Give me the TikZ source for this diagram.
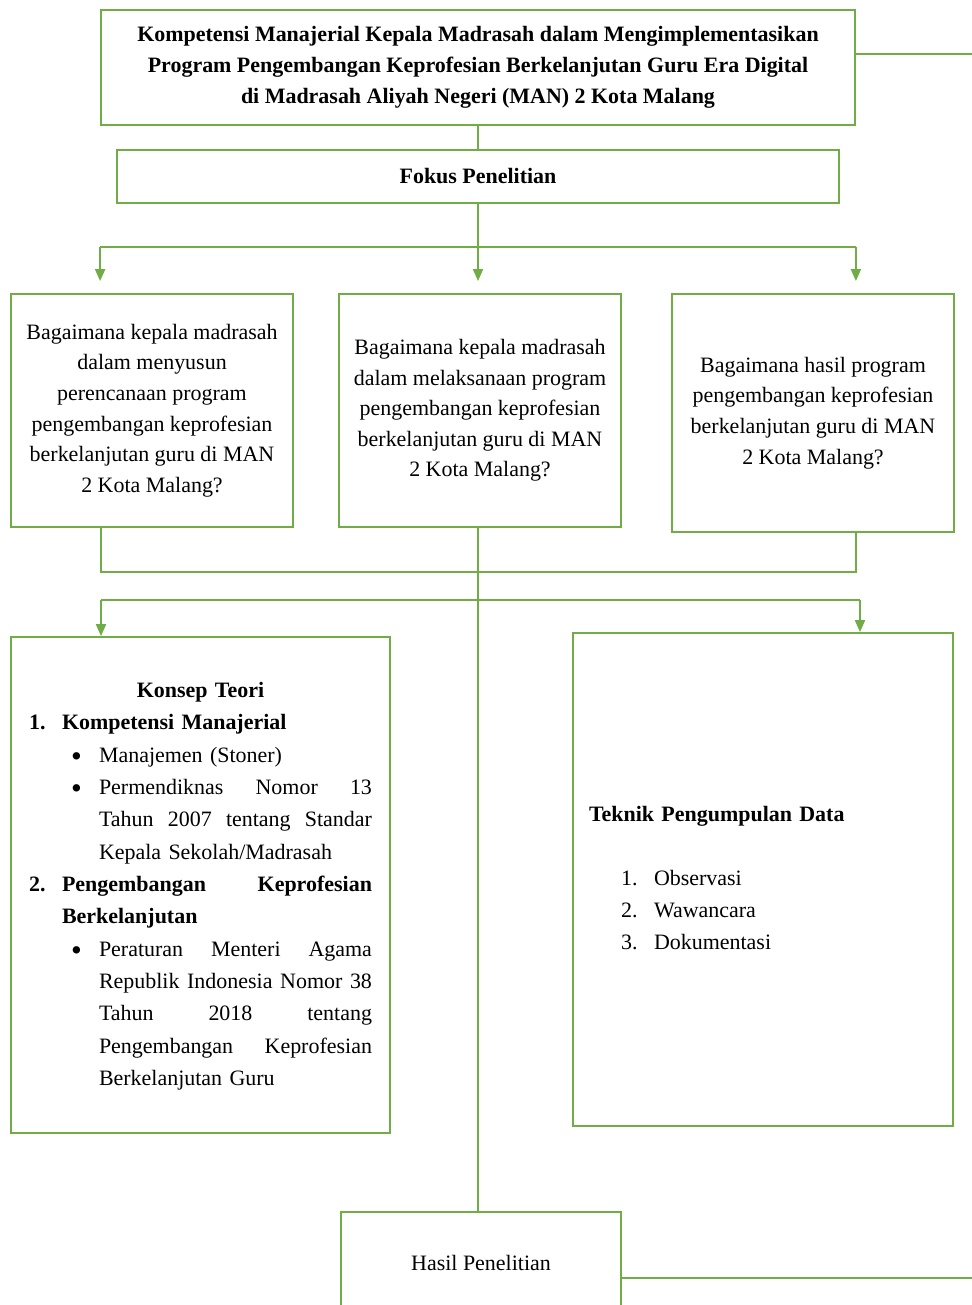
\documentclass[tikz,border=0pt]{standalone}
\usepackage{fontspec}
\setmainfont{Liberation Serif}
\usetikzlibrary{arrows.meta,calc}
\definecolor{framegreen}{HTML}{70AD47}
\tikzset{
  box/.style={draw=framegreen, line width=1.1pt, rectangle, inner sep=0pt, align=center, font=\fontsize{12.5pt}{17.4pt}\selectfont},
  link/.style={draw=framegreen, line width=1.1pt},
  arr/.style={link, -{Triangle[width=0.2cm,length=0.24cm]}},
}
\newcommand{\itemdot}{\hspace*{0.18cm}\raisebox{-0.18em}{\scalebox{1.4}{\textbullet}}}
\begin{document}
\begin{tikzpicture}[x=0.02cm,y=-0.02cm]
\useasboundingbox (0,0) rectangle (972,1305);
\coordinate (split1) at (478,247);
\coordinate (join) at (478,572);
\coordinate (kLeft) at (101,600);
\coordinate (kRight) at (860,600);
\coordinate (titleout) at (972,54);
\coordinate (hasilout) at (972,1278);

\node[box, minimum width=15.08cm, minimum height=2.3cm, font=\bfseries\fontsize{12.5pt}{17.6pt}\selectfont] (title) at (478,67.5)
  {Kompetensi Manajerial Kepala Madrasah dalam Mengimplementasikan\\
   Program Pengembangan Keprofesian Berkelanjutan Guru Era Digital\\
   di Madrasah Aliyah Negeri (MAN) 2 Kota Malang};
\node[box, minimum width=14.44cm, minimum height=1.06cm, font=\bfseries\fontsize{12.5pt}{17.4pt}\selectfont] (fokus) at (478,176.5) {Fokus Penelitian};

\node[box, minimum width=5.64cm, minimum height=4.66cm] (q1) at (152,410.5)
  {Bagaimana kepala madrasah\\ dalam menyusun\\ perencanaan program\\ pengembangan keprofesian\\ berkelanjutan guru di MAN\\ 2 Kota Malang?};
\node[box, minimum width=5.64cm, minimum height=4.66cm] (q2) at (480,410.5)
  {Bagaimana kepala madrasah\\ dalam melaksanaan program\\ pengembangan keprofesian\\ berkelanjutan guru di MAN\\ 2 Kota Malang?};
\node[box, minimum width=5.64cm, minimum height=4.76cm] (q3) at (813,413)
  {Bagaimana hasil program\\ pengembangan keprofesian\\ berkelanjutan guru di MAN\\ 2 Kota Malang?};

\node[box, minimum width=7.58cm, minimum height=9.92cm, text width=6.86cm, inner xsep=0.36cm, align=left, font=\fontsize{12.5pt}{18.4pt}\selectfont] (konsep) at (200.5,885) {%
\begin{tabular}{@{}p{0.66cm}@{}p{0.74cm}@{}p{5.46cm}@{}}
\multicolumn{3}{@{}c@{}}{\textbf{Konsep Teori}}\\
\textbf{1.} & \multicolumn{2}{@{}l@{}}{\textbf{Kompetensi Manajerial}}\\
 & \itemdot & Manajemen (Stoner)\\
 & \itemdot & \makebox[5.46cm][s]{Permendiknas\hfill Nomor\hfill 13}\\
 & & \makebox[5.46cm][s]{Tahun\hfill 2007\hfill tentang\hfill Standar}\\
 & & Kepala Sekolah/Madrasah\\
\textbf{2.} & \multicolumn{2}{@{}l@{}}{\makebox[6.2cm][s]{\textbf{Pengembangan\hfill Keprofesian}}}\\
 & \multicolumn{2}{@{}l@{}}{\textbf{Berkelanjutan}}\\
 & \itemdot & \makebox[5.46cm][s]{Peraturan\hfill Menteri\hfill Agama}\\
 & & \makebox[5.46cm][s]{Republik\hfill Indonesia\hfill Nomor\hfill 38}\\
 & & \makebox[5.46cm][s]{Tahun\hfill 2018\hfill tentang}\\
 & & \makebox[5.46cm][s]{Pengembangan\hfill Keprofesian}\\
 & & Berkelanjutan Guru
\end{tabular}};

\node[box, minimum width=7.6cm, minimum height=9.86cm, text width=6.96cm, inner xsep=0.32cm, align=left, font=\fontsize{12.5pt}{18.2pt}\selectfont] (teknik) at (763,879.5) {%
\begin{tabular}{@{}p{0.64cm}@{}p{0.66cm}@{}l@{}}
\multicolumn{3}{@{}l@{}}{\textbf{Teknik Pengumpulan Data}}\\
 & & \\
 & 1. & Observasi\\
 & 2. & Wawancara\\
 & 3. & Dokumentasi
\end{tabular}};

\node[box, minimum width=5.6cm, minimum height=2.04cm] (hasil) at (481,1263) {Hasil Penelitian};

\draw[link] (title.south) -- (fokus.north);
\draw[link] (title.east |- titleout) -- (titleout);
\draw[link] (title.west |- split1) -- (title.east |- split1);
\draw[arr, shorten >=0.24cm] (title.west |- split1) -- (title.west |- q1.north);
\draw[arr, shorten >=0.24cm] (fokus.south) -- (q2.north -| fokus.south);
\draw[arr, shorten >=0.24cm] (title.east |- split1) -- (title.east |- q3.north);

\draw[link] (q1.south -| kLeft) -- (kLeft |- join) -- (title.east |- join) -- (q3.south -| title.east);
\draw[link] (q2.south -| fokus.south) -- (hasil.north -| fokus.south);
\draw[link] (kLeft) -- (kRight);
\draw[arr] (kLeft) -- (kLeft |- konsep.north);
\draw[arr] (kRight) -- (kRight |- teknik.north);
\draw[link] (hasil.east |- hasilout) -- (hasilout);
\end{tikzpicture}
\end{document}
